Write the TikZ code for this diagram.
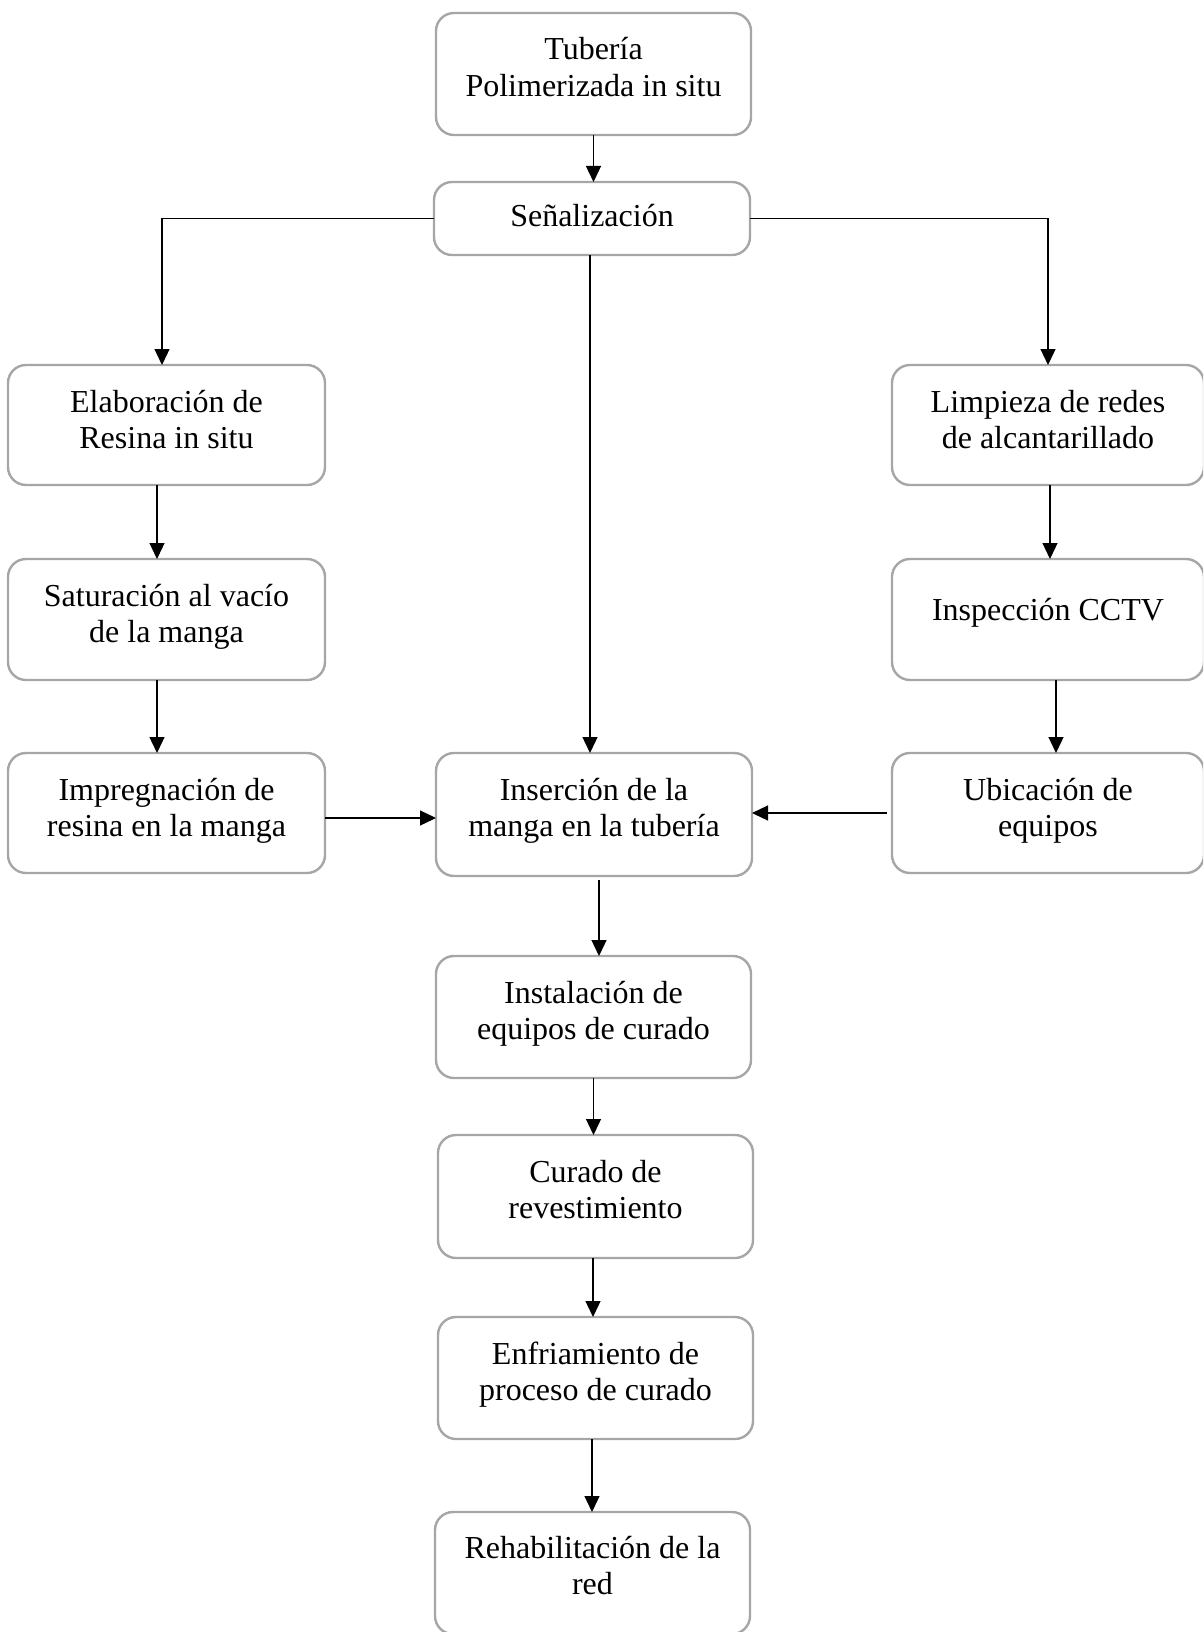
\documentclass[tikz,border=0pt]{standalone}
\usepackage{fontspec}
\setmainfont{Liberation Serif}
\usetikzlibrary{arrows.meta}
\definecolor{boxgray}{RGB}{166,166,166}
\newcommand{\bxt}[4]{\parbox[c][#2pt][t]{#1pt}{\centering\rule{0pt}{#3pt}#4}}
\begin{document}
\begin{tikzpicture}[x=1pt,y=-1pt,
  box/.style={draw=boxgray, line width=2.4pt, rounded corners=18pt, inner sep=0pt, outer sep=0pt,
    font=\fontsize{32}{36.7}\selectfont},
  arr/.style={-{Triangle[length=16pt,width=15pt]}, line width=1.3pt, black}]
\useasboundingbox (0,0) rectangle (1203,1632);
\clip (0,0) rectangle (1203,1632);

\node[box] (top)  at (593.5,74)    {\bxt{315}{122}{47}{Tubería\\Polimerizada in situ}};
\node[box] (sen)  at (592,218.5)   {\bxt{316}{73}{44.7}{Señalización}};
\node[box] (elab) at (166.5,425)   {\bxt{317}{120}{47}{Elaboración de\\Resina in situ}};
\node[box] (sat)  at (166.5,619.5) {\bxt{317}{121}{47}{Saturación al vacío\\de la manga}};
\node[box] (imp)  at (166.5,813)   {\bxt{317}{120}{47}{Impregnación de\\resina en la manga}};
\node[box] (limp) at (1048,425)    {\bxt{312}{120}{47}{Limpieza de redes\\de alcantarillado}};
\node[box] (insp) at (1048,619.5)  {\bxt{312}{121}{61}{Inspección CCTV}};
\node[box] (ubic) at (1048,813)    {\bxt{312}{120}{47}{Ubicación de\\equipos}};
\node[box] (ins)  at (594,814.5)   {\bxt{316}{123}{47}{Inserción de la\\manga en la tubería}};
\node[box] (inst) at (593.5,1017)  {\bxt{315}{122}{47}{Instalación de\\equipos de curado}};
\node[box] (cur)  at (595.5,1196.5){\bxt{315}{123}{47}{Curado de\\revestimiento}};
\node[box] (enf)  at (595.5,1378)  {\bxt{315}{122}{47}{Enfriamiento de\\proceso de curado}};
\node[box] (reh)  at (592.5,1573)  {\bxt{315}{122}{46}{Rehabilitación de la\\red}};

\draw[arr] (top.south) -- (top.south |- sen.north);
\draw[arr] (sen.west) -| ([xshift=-4.5pt]elab.north);
\draw[arr] (sen.east) -| (limp.north);
\draw[arr] ([xshift=-2pt]sen.south) -- ([xshift=-2pt]sen.south |- ins.north);
\draw[arr] ([xshift=-9.5pt]elab.south) -- ([xshift=-9.5pt]elab.south |- sat.north);
\draw[arr] ([xshift=-9.5pt]sat.south) -- ([xshift=-9.5pt]sat.south |- imp.north);
\draw[arr] ([yshift=-5pt]imp.east) -- ([yshift=-5pt]imp.east -| ins.west);
\draw[arr] ([xshift=-5pt]ubic.west) -- (ubic.west -| ins.east);
\draw[arr] ([xshift=2pt]limp.south) -- ([xshift=2pt]limp.south |- insp.north);
\draw[arr] ([xshift=8pt]insp.south) -- ([xshift=8pt]insp.south |- ubic.north);
\draw[arr] ([xshift=5pt,yshift=-4pt]ins.south) -- ([xshift=5pt]ins.south |- inst.north);
\draw[arr] (inst.south) -- (inst.south |- cur.north);
\draw[arr] ([xshift=-2.5pt]cur.south) -- ([xshift=-2.5pt]cur.south |- enf.north);
\draw[arr] ([xshift=-3.5pt]enf.south) -- ([xshift=-3.5pt]enf.south |- reh.north);
\end{tikzpicture}
\end{document}
